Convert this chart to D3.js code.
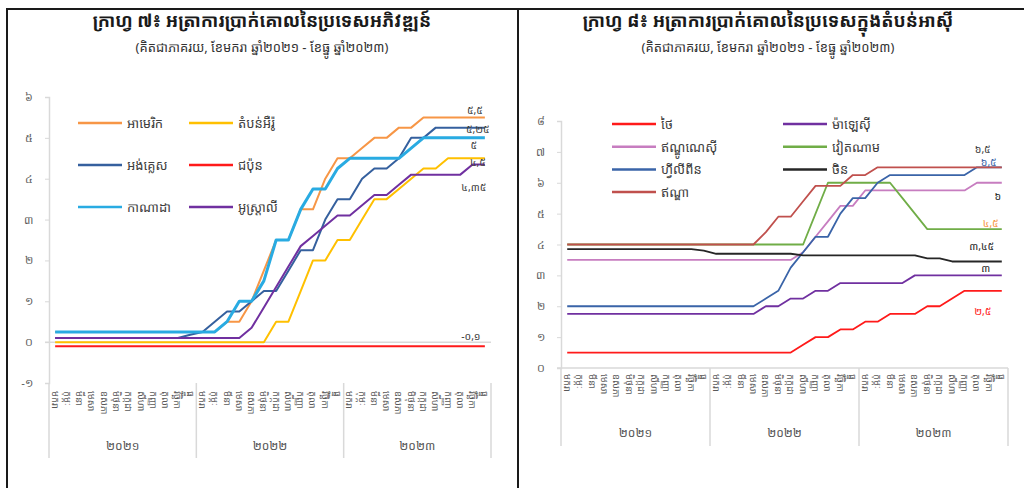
<!DOCTYPE html>
<html>
<head>
<meta charset="utf-8">
<style>
  body { margin: 0; background: #fff; }
  svg { display: block; font-family: "Khmer OS", "Noto Sans Khmer", "Noto Sans", "DejaVu Sans", sans-serif; }
</style>
</head>
<body>
<svg class="chart"></svg>

<script src="https://d3js.org/d3.v7.min.js"></script>
<script>
// categories
months = ["មករា","កុម្ភៈ","មីនា","មេសា","ឧសភា","មិថុនា","កក្កដា","សីហា","កញ្ញា","តុលា","វិច្ឆិកា","ធ្នូ"]
years = ["២០២១","២០២២","២០២៣"]

// left chart: developed economies
leftTitle = "ក្រាហ្វ ៧៖ អត្រាការប្រាក់គោលនៃប្រទេសអភិវឌ្ឍន៍"
leftNames = ["អាមេរិក","តំបន់អឺរ៉ូ","អង់គ្លេស","ជប៉ុន","កាណាដា","អូស្ត្រាលី"]
usRate     = [0.25,0.25,0.25,0.25,0.25,0.25,0.25,0.25,0.25,0.25,0.25,0.25, 0.25,0.25,0.5,0.5,1.0,1.75,2.5,2.5,3.25,3.25,4.0,4.5, 4.5,4.75,5.0,5.0,5.25,5.25,5.5,5.5,5.5,5.5,5.5,5.5]
euroRate   = [0,0,0,0,0,0,0,0,0,0,0,0, 0,0,0,0,0,0,0.5,0.5,1.25,2.0,2.0,2.5, 2.5,3.0,3.5,3.5,3.75,4.0,4.25,4.25,4.5,4.5,4.5,4.5]
ukRate     = [0.1,0.1,0.1,0.1,0.1,0.1,0.1,0.1,0.1,0.1,0.1,0.18, 0.25,0.5,0.75,0.75,1.0,1.25,1.25,1.75,2.25,2.25,3.0,3.5, 3.5,4.0,4.25,4.25,4.5,5.0,5.0,5.25,5.25,5.25,5.25,5.25]
japanRate  = [-0.1,-0.1,-0.1,-0.1,-0.1,-0.1,-0.1,-0.1,-0.1,-0.1,-0.1,-0.1, -0.1,-0.1,-0.1,-0.1,-0.1,-0.1,-0.1,-0.1,-0.1,-0.1,-0.1,-0.1, -0.1,-0.1,-0.1,-0.1,-0.1,-0.1,-0.1,-0.1,-0.1,-0.1,-0.1,-0.1]
canadaRate = [0.25,0.25,0.25,0.25,0.25,0.25,0.25,0.25,0.25,0.25,0.25,0.25, 0.25,0.25,0.5,1.0,1.0,1.5,2.5,2.5,3.25,3.75,3.75,4.25, 4.5,4.5,4.5,4.5,4.5,4.75,5.0,5.0,5.0,5.0,5.0,5.0]
ausRate    = [0.1,0.1,0.1,0.1,0.1,0.1,0.1,0.1,0.1,0.1,0.1,0.1, 0.1,0.1,0.1,0.1,0.35,0.85,1.35,1.85,2.35,2.6,2.85,3.1, 3.1,3.35,3.6,3.6,3.85,4.1,4.1,4.1,4.1,4.1,4.35,4.35]
leftEndLabels = ["៥,៥","៤,៥","៥,២៥","-០,១","៥","៤,៣៥"]
leftTickValues = [-1,0,1,2,3,4,5,6]
leftTickLabels = ["-១","០","១","២","៣","៤","៥","៦"]

// right chart: Asian economies
rightTitle = "ក្រាហ្វ ៨៖ អត្រាការប្រាក់គោលនៃប្រទេសក្នុងតំបន់អាស៊ី"
rightNames = ["ថៃ","ម៉ាឡេស៊ី","ឥណ្ឌូណេស៊ី","វៀតណាម","ហ្វីលីពីន","ចិន","ឥណ្ឌា"]
thaiRate      = [0.5,0.5,0.5,0.5,0.5,0.5,0.5,0.5,0.5,0.5,0.5,0.5, 0.5,0.5,0.5,0.5,0.5,0.5,0.5,0.75,1.0,1.0,1.25,1.25, 1.5,1.5,1.75,1.75,1.75,2.0,2.0,2.25,2.5,2.5,2.5,2.5]
malaysiaRate  = [1.75,1.75,1.75,1.75,1.75,1.75,1.75,1.75,1.75,1.75,1.75,1.75, 1.75,1.75,1.75,1.75,2.0,2.0,2.25,2.25,2.5,2.5,2.75,2.75, 2.75,2.75,2.75,2.75,3.0,3.0,3.0,3.0,3.0,3.0,3.0,3.0]
indonesiaRate = [3.5,3.5,3.5,3.5,3.5,3.5,3.5,3.5,3.5,3.5,3.5,3.5, 3.5,3.5,3.5,3.5,3.5,3.5,3.5,3.75,4.25,4.75,5.25,5.25, 5.75,5.75,5.75,5.75,5.75,5.75,5.75,5.75,5.75,6.0,6.0,6.0]
vietnamRate   = [4,4,4,4,4,4,4,4,4,4,4,4, 4,4,4,4,4,4,4,4,5.0,6.0,6.0,6.0, 6.0,6.0,6.0,5.5,5.0,4.5,4.5,4.5,4.5,4.5,4.5,4.5]
philRate      = [2,2,2,2,2,2,2,2,2,2,2,2, 2,2,2,2,2.25,2.5,3.25,3.75,4.25,4.25,5.0,5.5, 5.5,6.0,6.25,6.25,6.25,6.25,6.25,6.25,6.25,6.5,6.5,6.5]
chinaRate     = [3.85,3.85,3.85,3.85,3.85,3.85,3.85,3.85,3.85,3.85,3.85,3.8, 3.7,3.7,3.7,3.7,3.7,3.7,3.7,3.65,3.65,3.65,3.65,3.65, 3.65,3.65,3.65,3.65,3.65,3.55,3.55,3.45,3.45,3.45,3.45,3.45]
indiaRate     = [4,4,4,4,4,4,4,4,4,4,4,4, 4,4,4,4,4.4,4.9,4.9,5.4,5.9,5.9,5.9,6.25, 6.25,6.5,6.5,6.5,6.5,6.5,6.5,6.5,6.5,6.5,6.5,6.5]
rightEndLabels = ["២,៥","៣","៦","៤,៥","៦,៥","៣,៤៥","៦,៥"]
rightTickValues = [0,1,2,3,4,5,6,7,8]
rightTickLabels = ["០","១","២","៣","៤","៥","៦","៧","៨"]

subTitle = "(គិតជាភាគរយ, ខែមករា ឆ្នាំ២០២១ - ខែធ្នូ ឆ្នាំ២០២៣)"

width = 1024
height = 488

const svg = d3.select("svg")
    .attr("width", width)
    .attr("height", height)
    .attr("viewBox", [0, 0, width, height]);

// category keys: one per month over three years
const cats = d3.range(years.length * months.length);

// panel frames
svg.append("path")
    .attr("d", `M7,${height} V9 H${width} M518,9 V${height}`)
    .attr("fill", "none")
    .attr("stroke", "#1a1a1a")
    .attr("stroke-width", 2);

function drawPanel(cfg) {
  const g = svg.append("g");

  g.append("text")
      .attr("x", cfg.cx).attr("y", 27)
      .attr("text-anchor", "middle")
      .attr("font-size", 18).attr("font-weight", "bold")
      .attr("fill", "#1a1a1a")
      .text(cfg.title);
  g.append("text")
      .attr("x", cfg.cx).attr("y", 52)
      .attr("text-anchor", "middle")
      .attr("font-size", 13)
      .attr("fill", "#333")
      .text(subTitle);

  const x = d3.scaleBand()
      .domain(cats)
      .range([cfg.left, cfg.right]);
  const y = d3.scaleLinear()
      .domain(cfg.domain)
      .range([cfg.bottom, cfg.top]);

  // y axis
  g.append("g")
      .attr("transform", `translate(${cfg.left},0)`)
      .call(d3.axisLeft(y).tickValues(cfg.tickValues)
          .tickFormat((d, i) => cfg.tickLabels[i]).tickSize(4).tickPadding(12))
      .call(g => g.select(".domain").attr("stroke", "#d9d9d9").attr("stroke-width", 1.5))
      .call(g => g.selectAll(".tick line").attr("stroke", "#d9d9d9"))
      .call(g => g.selectAll(".tick text").attr("fill", "#595959").attr("font-size", 11)
          .attr("font-family", "inherit"));

  // zero line
  g.append("line")
      .attr("x1", cfg.left - 4).attr("x2", cfg.right)
      .attr("y1", y(0)).attr("y2", y(0))
      .attr("stroke", "#d9d9d9").attr("stroke-width", 1.5);

  // year separators under the plot
  const sep = d3.range(years.length + 1).map(i => i === years.length ? cfg.right : x(i * months.length));
  g.selectAll(".sep")
    .data(sep)
    .join("line")
      .attr("x1", d => d).attr("x2", d => d)
      .attr("y1", cfg.bottom).attr("y2", cfg.sepBottom)
      .attr("stroke", "#d9d9d9").attr("stroke-width", 1.5);

  // month labels, vertical
  g.selectAll(".month")
    .data(cats)
    .join("text")
      .attr("transform", d => `translate(${x(d) + x.bandwidth() / 2},${cfg.bottom + cfg.monthPad}) rotate(90)`)
      .attr("dominant-baseline", "central")
      .attr("font-size", 9.5)
      .attr("fill", "#595959")
      .text(d => months[d % months.length]);

  // year labels
  g.selectAll(".year")
    .data(years)
    .join("text")
      .attr("x", (d, i) => (sep[i] + sep[i + 1]) / 2)
      .attr("y", cfg.yearY)
      .attr("text-anchor", "middle")
      .attr("font-size", 12)
      .attr("fill", "#595959")
      .text(d => d);

  // lines
  const line = d3.line()
      .x((d, i) => x(i) + x.bandwidth() / 2)
      .y(d => y(d));

  g.selectAll(".series")
    .data(cfg.series)
    .join("path")
      .attr("fill", "none")
      .attr("stroke", d => d.color)
      .attr("stroke-width", d => d.width)
      .attr("stroke-linejoin", "round")
      .attr("d", d => line(d.values));

  // end labels
  const lastX = x(cats.length - 1) + x.bandwidth() / 2;
  g.selectAll(".endlabel")
    .data(cfg.series)
    .join("text")
      .attr("x", d => lastX + d.dx)
      .attr("y", d => y(d.values[d.values.length - 1]) + d.dy)
      .attr("text-anchor", "middle")
      .attr("font-size", 10.5)
      .attr("fill", d => d.labelColor)
      .text(d => d.label);

  // legend
  const leg = g.selectAll(".legend")
    .data(cfg.series.slice().sort((a, b) => a.order - b.order))
    .join("g")
      .attr("transform", (d, i) => `translate(${cfg.legX[i % 2]},${cfg.legY + Math.floor(i / 2) * cfg.legStep})`);
  leg.append("line")
      .attr("x1", 0).attr("x2", cfg.legLine)
      .attr("stroke", d => d.color)
      .attr("stroke-width", 2.5);
  leg.append("text")
      .attr("x", cfg.legLine + 5)
      .attr("dominant-baseline", "central")
      .attr("font-size", 13)
      .attr("fill", "#404040")
      .text(d => d.name);
}

drawPanel({
  title: leftTitle, cx: 262,
  left: 49, right: 491, top: 97, bottom: 383,
  domain: [-1, 6], tickValues: leftTickValues, tickLabels: leftTickLabels,
  sepBottom: 458, monthPad: 8, yearY: 450,
  legX: [78, 189], legY: 123, legStep: 42, legLine: 44,
  series: [
    {name: leftNames[0], values: usRate,     color: "#F79646", width: 2,   label: leftEndLabels[0], labelColor: "#404040", dx: -10, dy: -3, order: 0},
    {name: leftNames[1], values: euroRate,   color: "#FFC000", width: 2,   label: leftEndLabels[1], labelColor: "#404040", dx: -7,  dy: 8,  order: 1},
    {name: leftNames[2], values: ukRate,     color: "#35609E", width: 2,   label: leftEndLabels[2], labelColor: "#404040", dx: -7,  dy: 5,  order: 2},
    {name: leftNames[3], values: japanRate,  color: "#FF1A1A", width: 2,   label: leftEndLabels[3], labelColor: "#404040", dx: -14, dy: -6, order: 3},
    {name: leftNames[4], values: canadaRate, color: "#29ABE2", width: 3,   label: leftEndLabels[4], labelColor: "#404040", dx: -11, dy: 11, order: 4},
    {name: leftNames[5], values: ausRate,    color: "#7030A0", width: 2,   label: leftEndLabels[5], labelColor: "#404040", dx: -11, dy: 27, order: 5}
  ]
});

drawPanel({
  title: rightTitle, cx: 768,
  left: 561, right: 1008, top: 121, bottom: 368,
  domain: [0, 8], tickValues: rightTickValues, tickLabels: rightTickLabels,
  sepBottom: 446, monthPad: 6, yearY: 437,
  legX: [612, 783], legY: 124, legStep: 22.7, legLine: 44,
  series: [
    {name: rightNames[0], values: thaiRate,      color: "#FF1A1A", width: 1.8, label: rightEndLabels[0], labelColor: "#FF1A1A", dx: -19, dy: 24, order: 0},
    {name: rightNames[1], values: malaysiaRate,  color: "#7030A0", width: 1.8, label: rightEndLabels[1], labelColor: "#262626", dx: -16, dy: -3, order: 1},
    {name: rightNames[2], values: indonesiaRate, color: "#C77DC0", width: 1.8, label: rightEndLabels[2], labelColor: "#262626", dx: -4,  dy: 17, order: 2},
    {name: rightNames[3], values: vietnamRate,   color: "#70AD47", width: 1.8, label: rightEndLabels[3], labelColor: "#F79646", dx: -11, dy: -2, order: 3},
    {name: rightNames[4], values: philRate,      color: "#3A64A8", width: 1.8, label: rightEndLabels[4], labelColor: "#3A64A8", dx: -13, dy: -1, order: 4},
    {name: rightNames[5], values: chinaRate,     color: "#262626", width: 1.8, label: rightEndLabels[5], labelColor: "#262626", dx: -20, dy: -11, order: 5},
    {name: rightNames[6], values: indiaRate,     color: "#C0504D", width: 1.8, label: rightEndLabels[6], labelColor: "#404040", dx: -19, dy: -14, order: 6}
  ]
});
</script>
</body>
</html>
